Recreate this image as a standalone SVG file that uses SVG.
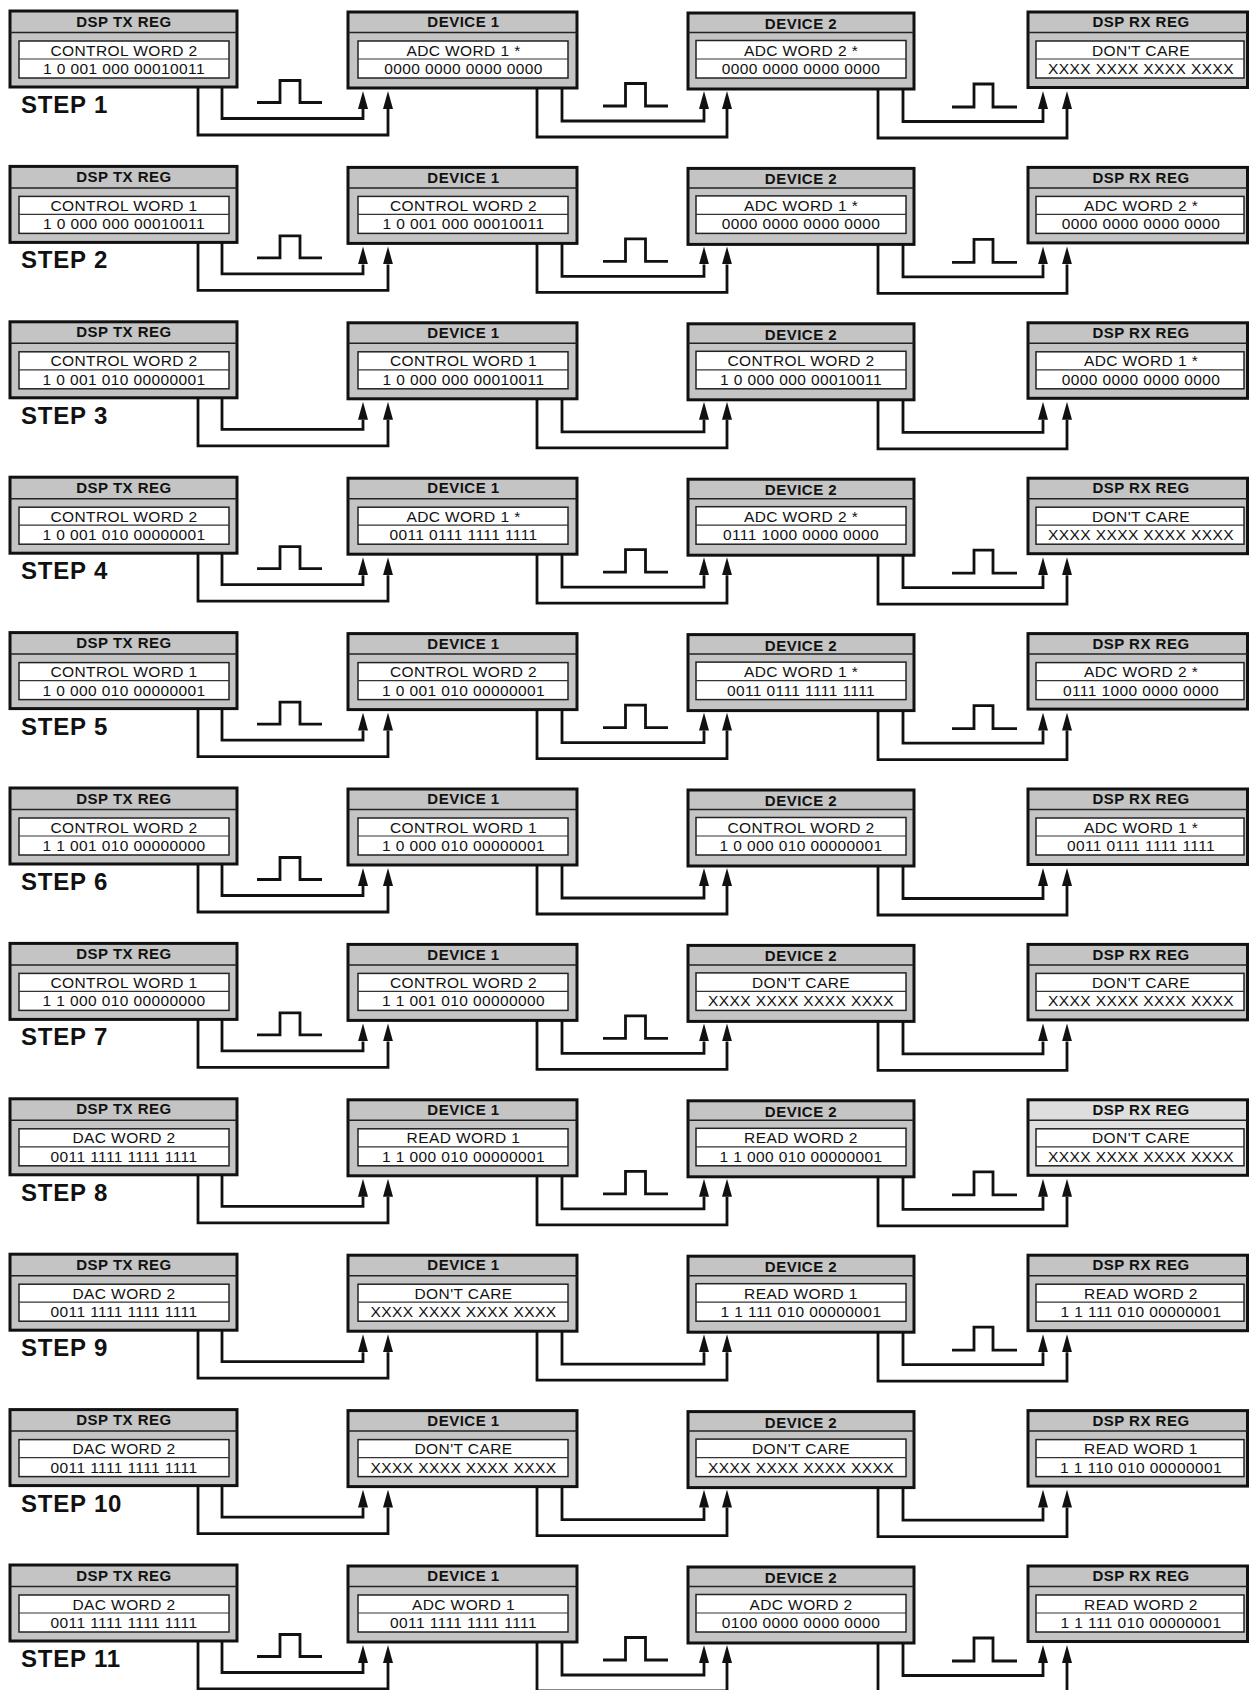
<svg xmlns="http://www.w3.org/2000/svg" xmlns:xlink="http://www.w3.org/1999/xlink" width="1249" height="1690" viewBox="0 0 1249 1690">
<style>
.box{fill:#c4c4c4;stroke:#111;stroke-width:3}
.lt{fill:#dedede}
.hd{stroke:#222;stroke-width:1.5}
.in{fill:#fff;stroke:#222;stroke-width:1.5}
.dv{stroke:#333;stroke-width:1.2}
.wire{fill:none;stroke:#111;stroke-width:2.8;marker-end:url(#ah)}
.pulse{fill:none;stroke:#111;stroke-width:2.8}
.h{font-family:"Liberation Sans",Arial,sans-serif;font-weight:bold;font-size:15px;letter-spacing:0.5px;text-anchor:middle;fill:#111}
.t{font-family:"Liberation Sans",Arial,sans-serif;font-size:15.5px;letter-spacing:0.4px;text-anchor:middle;fill:#111}
.step{font-family:"Liberation Sans",Arial,sans-serif;font-weight:bold;font-size:24px;letter-spacing:0.8px;fill:#111}
</style>
<defs>
<marker id="ah" markerUnits="userSpaceOnUse" markerWidth="18" markerHeight="10" viewBox="0 0 18 10" refX="0" refY="5" orient="auto"><path d="M0,0 L18,5 L0,10 z" fill="#111"/></marker>
<g id="f0"><rect class="box" x="10" y="0" width="227" height="76"/><line class="hd" x1="10" y1="21.5" x2="237" y2="21.5"/><rect class="in" x="19" y="30" width="210" height="37"/><line class="dv" x1="19" y1="48" x2="229" y2="48"/></g>
<g id="f1"><rect class="box" x="348" y="1" width="229" height="76"/><line class="hd" x1="348" y1="21.5" x2="577" y2="21.5"/><rect class="in" x="358" y="30" width="210" height="37"/><line class="dv" x1="358" y1="48" x2="568" y2="48"/></g>
<g id="f2"><rect class="box" x="688" y="2" width="226" height="76"/><line class="hd" x1="688" y1="21.5" x2="914" y2="21.5"/><rect class="in" x="696" y="29.5" width="210" height="37.5"/><line class="dv" x1="696" y1="48" x2="906" y2="48"/></g>
<g id="f3"><rect class="box" x="1028" y="1" width="219.5" height="75.5"/><line class="hd" x1="1028" y1="21.5" x2="1247.5" y2="21.5"/><rect class="in" x="1036" y="30" width="208" height="37"/><line class="dv" x1="1036" y1="48" x2="1244" y2="48"/></g>
<g id="c0"><path class="wire" d="M198,76 V124 H388 V98"/><path class="wire" d="M222,76 V107.5 H363 V98"/></g>
<g id="c1"><path class="wire" d="M537,77 V126 H727 V98"/><path class="wire" d="M562,77 V110 H704 V98"/></g>
<g id="c2"><path class="wire" d="M878,78 V127 H1067 V98"/><path class="wire" d="M903,78 V110.5 H1043 V98"/></g>
<path id="p0" class="pulse" d="M257,91.5 H280 V69.5 H300 V91.5 H322"/>
<path id="p1" class="pulse" d="M603,95 H625.5 V72.5 H645.5 V95 H668"/>
<path id="p2" class="pulse" d="M952,96 H974 V73 H993 V96 H1017"/>
</defs>
<rect width="1249" height="1690" fill="#fff"/>
<g id="connectors">
<g transform="translate(0,11)"><use href="#c0"/><use href="#c1"/><use href="#c2"/></g>
<g transform="translate(0,166.4)"><use href="#c0"/><use href="#c1"/><use href="#c2"/></g>
<g transform="translate(0,321.8)"><use href="#c0"/><use href="#c1"/><use href="#c2"/></g>
<g transform="translate(0,477.2)"><use href="#c0"/><use href="#c1"/><use href="#c2"/></g>
<g transform="translate(0,632.6)"><use href="#c0"/><use href="#c1"/><use href="#c2"/></g>
<g transform="translate(0,788)"><use href="#c0"/><use href="#c1"/><use href="#c2"/></g>
<g transform="translate(0,943.4)"><use href="#c0"/><use href="#c1"/><use href="#c2"/></g>
<g transform="translate(0,1098.8)"><use href="#c0"/><use href="#c1"/><use href="#c2"/></g>
<g transform="translate(0,1254.2)"><use href="#c0"/><use href="#c1"/><use href="#c2"/></g>
<g transform="translate(0,1409.6)"><use href="#c0"/><use href="#c1"/><use href="#c2"/></g>
<g transform="translate(0,1565)"><use href="#c0"/><use href="#c1"/><use href="#c2"/></g>
</g>
<g id="clock-pulses">
<g transform="translate(0,11)"><use href="#p0"/><use href="#p1"/><use href="#p2"/></g>
<g transform="translate(0,166.4)"><use href="#p0"/><use href="#p1"/><use href="#p2"/></g>
<g transform="translate(0,477.2)"><use href="#p0"/><use href="#p1"/><use href="#p2"/></g>
<g transform="translate(0,632.6)"><use href="#p0"/><use href="#p1"/><use href="#p2"/></g>
<g transform="translate(0,788)"><use href="#p0"/></g>
<g transform="translate(0,943.4)"><use href="#p0"/><use href="#p1"/></g>
<g transform="translate(0,1098.8)"><use href="#p1"/><use href="#p2"/></g>
<g transform="translate(0,1254.2)"><use href="#p2"/></g>
<g transform="translate(0,1565)"><use href="#p0"/><use href="#p1"/><use href="#p2"/></g>
</g>

<g id="step1-tx" transform="translate(0,11)"><use href="#f0"/><text class="h" x="124" y="15.7">DSP TX REG</text><text class="t" x="124" y="44.5">CONTROL WORD 2</text><text class="t" x="124" y="63">1 0 001 000 00010011</text></g>
<g id="step1-dev1" transform="translate(0,11)"><use href="#f1"/><text class="h" x="463.5" y="16.3">DEVICE 1</text><text class="t" x="463.5" y="44.5">ADC WORD 1 *</text><text class="t" x="463.5" y="63">0000 0000 0000 0000</text></g>
<g id="step1-dev2" transform="translate(0,11)"><use href="#f2"/><text class="h" x="801" y="18">DEVICE 2</text><text class="t" x="801" y="44.5">ADC WORD 2 *</text><text class="t" x="801" y="63">0000 0000 0000 0000</text></g>
<g id="step1-rx" transform="translate(0,11)"><use href="#f3"/><text class="h" x="1141" y="16.3">DSP RX REG</text><text class="t" x="1141" y="44.5">DON'T CARE</text><text class="t" x="1141" y="63">XXXX XXXX XXXX XXXX</text></g>

<g id="step2-tx" transform="translate(0,166.4)"><use href="#f0"/><text class="h" x="124" y="15.7">DSP TX REG</text><text class="t" x="124" y="44.5">CONTROL WORD 1</text><text class="t" x="124" y="63">1 0 000 000 00010011</text></g>
<g id="step2-dev1" transform="translate(0,166.4)"><use href="#f1"/><text class="h" x="463.5" y="16.3">DEVICE 1</text><text class="t" x="463.5" y="44.5">CONTROL WORD 2</text><text class="t" x="463.5" y="63">1 0 001 000 00010011</text></g>
<g id="step2-dev2" transform="translate(0,166.4)"><use href="#f2"/><text class="h" x="801" y="18">DEVICE 2</text><text class="t" x="801" y="44.5">ADC WORD 1 *</text><text class="t" x="801" y="63">0000 0000 0000 0000</text></g>
<g id="step2-rx" transform="translate(0,166.4)"><use href="#f3"/><text class="h" x="1141" y="16.3">DSP RX REG</text><text class="t" x="1141" y="44.5">ADC WORD 2 *</text><text class="t" x="1141" y="63">0000 0000 0000 0000</text></g>

<g id="step3-tx" transform="translate(0,321.8)"><use href="#f0"/><text class="h" x="124" y="15.7">DSP TX REG</text><text class="t" x="124" y="44.5">CONTROL WORD 2</text><text class="t" x="124" y="63">1 0 001 010 00000001</text></g>
<g id="step3-dev1" transform="translate(0,321.8)"><use href="#f1"/><text class="h" x="463.5" y="16.3">DEVICE 1</text><text class="t" x="463.5" y="44.5">CONTROL WORD 1</text><text class="t" x="463.5" y="63">1 0 000 000 00010011</text></g>
<g id="step3-dev2" transform="translate(0,321.8)"><use href="#f2"/><text class="h" x="801" y="18">DEVICE 2</text><text class="t" x="801" y="44.5">CONTROL WORD 2</text><text class="t" x="801" y="63">1 0 000 000 00010011</text></g>
<g id="step3-rx" transform="translate(0,321.8)"><use href="#f3"/><text class="h" x="1141" y="16.3">DSP RX REG</text><text class="t" x="1141" y="44.5">ADC WORD 1 *</text><text class="t" x="1141" y="63">0000 0000 0000 0000</text></g>

<g id="step4-tx" transform="translate(0,477.2)"><use href="#f0"/><text class="h" x="124" y="15.7">DSP TX REG</text><text class="t" x="124" y="44.5">CONTROL WORD 2</text><text class="t" x="124" y="63">1 0 001 010 00000001</text></g>
<g id="step4-dev1" transform="translate(0,477.2)"><use href="#f1"/><text class="h" x="463.5" y="16.3">DEVICE 1</text><text class="t" x="463.5" y="44.5">ADC WORD 1 *</text><text class="t" x="463.5" y="63">0011 0111 1111 1111</text></g>
<g id="step4-dev2" transform="translate(0,477.2)"><use href="#f2"/><text class="h" x="801" y="18">DEVICE 2</text><text class="t" x="801" y="44.5">ADC WORD 2 *</text><text class="t" x="801" y="63">0111 1000 0000 0000</text></g>
<g id="step4-rx" transform="translate(0,477.2)"><use href="#f3"/><text class="h" x="1141" y="16.3">DSP RX REG</text><text class="t" x="1141" y="44.5">DON'T CARE</text><text class="t" x="1141" y="63">XXXX XXXX XXXX XXXX</text></g>

<g id="step5-tx" transform="translate(0,632.6)"><use href="#f0"/><text class="h" x="124" y="15.7">DSP TX REG</text><text class="t" x="124" y="44.5">CONTROL WORD 1</text><text class="t" x="124" y="63">1 0 000 010 00000001</text></g>
<g id="step5-dev1" transform="translate(0,632.6)"><use href="#f1"/><text class="h" x="463.5" y="16.3">DEVICE 1</text><text class="t" x="463.5" y="44.5">CONTROL WORD 2</text><text class="t" x="463.5" y="63">1 0 001 010 00000001</text></g>
<g id="step5-dev2" transform="translate(0,632.6)"><use href="#f2"/><text class="h" x="801" y="18">DEVICE 2</text><text class="t" x="801" y="44.5">ADC WORD 1 *</text><text class="t" x="801" y="63">0011 0111 1111 1111</text></g>
<g id="step5-rx" transform="translate(0,632.6)"><use href="#f3"/><text class="h" x="1141" y="16.3">DSP RX REG</text><text class="t" x="1141" y="44.5">ADC WORD 2 *</text><text class="t" x="1141" y="63">0111 1000 0000 0000</text></g>

<g id="step6-tx" transform="translate(0,788)"><use href="#f0"/><text class="h" x="124" y="15.7">DSP TX REG</text><text class="t" x="124" y="44.5">CONTROL WORD 2</text><text class="t" x="124" y="63">1 1 001 010 00000000</text></g>
<g id="step6-dev1" transform="translate(0,788)"><use href="#f1"/><text class="h" x="463.5" y="16.3">DEVICE 1</text><text class="t" x="463.5" y="44.5">CONTROL WORD 1</text><text class="t" x="463.5" y="63">1 0 000 010 00000001</text></g>
<g id="step6-dev2" transform="translate(0,788)"><use href="#f2"/><text class="h" x="801" y="18">DEVICE 2</text><text class="t" x="801" y="44.5">CONTROL WORD 2</text><text class="t" x="801" y="63">1 0 000 010 00000001</text></g>
<g id="step6-rx" transform="translate(0,788)"><use href="#f3"/><text class="h" x="1141" y="16.3">DSP RX REG</text><text class="t" x="1141" y="44.5">ADC WORD 1 *</text><text class="t" x="1141" y="63">0011 0111 1111 1111</text></g>

<g id="step7-tx" transform="translate(0,943.4)"><use href="#f0"/><text class="h" x="124" y="15.7">DSP TX REG</text><text class="t" x="124" y="44.5">CONTROL WORD 1</text><text class="t" x="124" y="63">1 1 000 010 00000000</text></g>
<g id="step7-dev1" transform="translate(0,943.4)"><use href="#f1"/><text class="h" x="463.5" y="16.3">DEVICE 1</text><text class="t" x="463.5" y="44.5">CONTROL WORD 2</text><text class="t" x="463.5" y="63">1 1 001 010 00000000</text></g>
<g id="step7-dev2" transform="translate(0,943.4)"><use href="#f2"/><text class="h" x="801" y="18">DEVICE 2</text><text class="t" x="801" y="44.5">DON'T CARE</text><text class="t" x="801" y="63">XXXX XXXX XXXX XXXX</text></g>
<g id="step7-rx" transform="translate(0,943.4)"><use href="#f3"/><text class="h" x="1141" y="16.3">DSP RX REG</text><text class="t" x="1141" y="44.5">DON'T CARE</text><text class="t" x="1141" y="63">XXXX XXXX XXXX XXXX</text></g>

<g id="step8-tx" transform="translate(0,1098.8)"><use href="#f0"/><text class="h" x="124" y="15.7">DSP TX REG</text><text class="t" x="124" y="44.5">DAC WORD 2</text><text class="t" x="124" y="63">0011 1111 1111 1111</text></g>
<g id="step8-dev1" transform="translate(0,1098.8)"><use href="#f1"/><text class="h" x="463.5" y="16.3">DEVICE 1</text><text class="t" x="463.5" y="44.5">READ WORD 1</text><text class="t" x="463.5" y="63">1 1 000 010 00000001</text></g>
<g id="step8-dev2" transform="translate(0,1098.8)"><use href="#f2"/><text class="h" x="801" y="18">DEVICE 2</text><text class="t" x="801" y="44.5">READ WORD 2</text><text class="t" x="801" y="63">1 1 000 010 00000001</text></g>
<g id="step8-rx" transform="translate(0,1098.8)"><rect class="box lt" x="1028" y="1" width="219.5" height="75.5"/><line class="hd" x1="1028" y1="21.5" x2="1247.5" y2="21.5"/><rect class="in" x="1036" y="30" width="208" height="37"/><line class="dv" x1="1036" y1="48" x2="1244" y2="48"/><text class="h" x="1141" y="16.3">DSP RX REG</text><text class="t" x="1141" y="44.5">DON'T CARE</text><text class="t" x="1141" y="63">XXXX XXXX XXXX XXXX</text></g>

<g id="step9-tx" transform="translate(0,1254.2)"><use href="#f0"/><text class="h" x="124" y="15.7">DSP TX REG</text><text class="t" x="124" y="44.5">DAC WORD 2</text><text class="t" x="124" y="63">0011 1111 1111 1111</text></g>
<g id="step9-dev1" transform="translate(0,1254.2)"><use href="#f1"/><text class="h" x="463.5" y="16.3">DEVICE 1</text><text class="t" x="463.5" y="44.5">DON'T CARE</text><text class="t" x="463.5" y="63">XXXX XXXX XXXX XXXX</text></g>
<g id="step9-dev2" transform="translate(0,1254.2)"><use href="#f2"/><text class="h" x="801" y="18">DEVICE 2</text><text class="t" x="801" y="44.5">READ WORD 1</text><text class="t" x="801" y="63">1 1 111 010 00000001</text></g>
<g id="step9-rx" transform="translate(0,1254.2)"><use href="#f3"/><text class="h" x="1141" y="16.3">DSP RX REG</text><text class="t" x="1141" y="44.5">READ WORD 2</text><text class="t" x="1141" y="63">1 1 111 010 00000001</text></g>

<g id="step10-tx" transform="translate(0,1409.6)"><use href="#f0"/><text class="h" x="124" y="15.7">DSP TX REG</text><text class="t" x="124" y="44.5">DAC WORD 2</text><text class="t" x="124" y="63">0011 1111 1111 1111</text></g>
<g id="step10-dev1" transform="translate(0,1409.6)"><use href="#f1"/><text class="h" x="463.5" y="16.3">DEVICE 1</text><text class="t" x="463.5" y="44.5">DON'T CARE</text><text class="t" x="463.5" y="63">XXXX XXXX XXXX XXXX</text></g>
<g id="step10-dev2" transform="translate(0,1409.6)"><use href="#f2"/><text class="h" x="801" y="18">DEVICE 2</text><text class="t" x="801" y="44.5">DON'T CARE</text><text class="t" x="801" y="63">XXXX XXXX XXXX XXXX</text></g>
<g id="step10-rx" transform="translate(0,1409.6)"><use href="#f3"/><text class="h" x="1141" y="16.3">DSP RX REG</text><text class="t" x="1141" y="44.5">READ WORD 1</text><text class="t" x="1141" y="63">1 1 110 010 00000001</text></g>

<g id="step11-tx" transform="translate(0,1565)"><use href="#f0"/><text class="h" x="124" y="15.7">DSP TX REG</text><text class="t" x="124" y="44.5">DAC WORD 2</text><text class="t" x="124" y="63">0011 1111 1111 1111</text></g>
<g id="step11-dev1" transform="translate(0,1565)"><use href="#f1"/><text class="h" x="463.5" y="16.3">DEVICE 1</text><text class="t" x="463.5" y="44.5">ADC WORD 1</text><text class="t" x="463.5" y="63">0011 1111 1111 1111</text></g>
<g id="step11-dev2" transform="translate(0,1565)"><use href="#f2"/><text class="h" x="801" y="18">DEVICE 2</text><text class="t" x="801" y="44.5">ADC WORD 2</text><text class="t" x="801" y="63">0100 0000 0000 0000</text></g>
<g id="step11-rx" transform="translate(0,1565)"><use href="#f3"/><text class="h" x="1141" y="16.3">DSP RX REG</text><text class="t" x="1141" y="44.5">READ WORD 2</text><text class="t" x="1141" y="63">1 1 111 010 00000001</text></g>

<g id="step-labels">
<text class="step" x="21" y="113">STEP 1</text>
<text class="step" x="21" y="268.4">STEP 2</text>
<text class="step" x="21" y="423.8">STEP 3</text>
<text class="step" x="21" y="579.2">STEP 4</text>
<text class="step" x="21" y="734.6">STEP 5</text>
<text class="step" x="21" y="890">STEP 6</text>
<text class="step" x="21" y="1045.4">STEP 7</text>
<text class="step" x="21" y="1200.8">STEP 8</text>
<text class="step" x="21" y="1356.2">STEP 9</text>
<text class="step" x="21" y="1511.6">STEP 10</text>
<text class="step" x="21" y="1667">STEP 11</text>
</g>
</svg>
